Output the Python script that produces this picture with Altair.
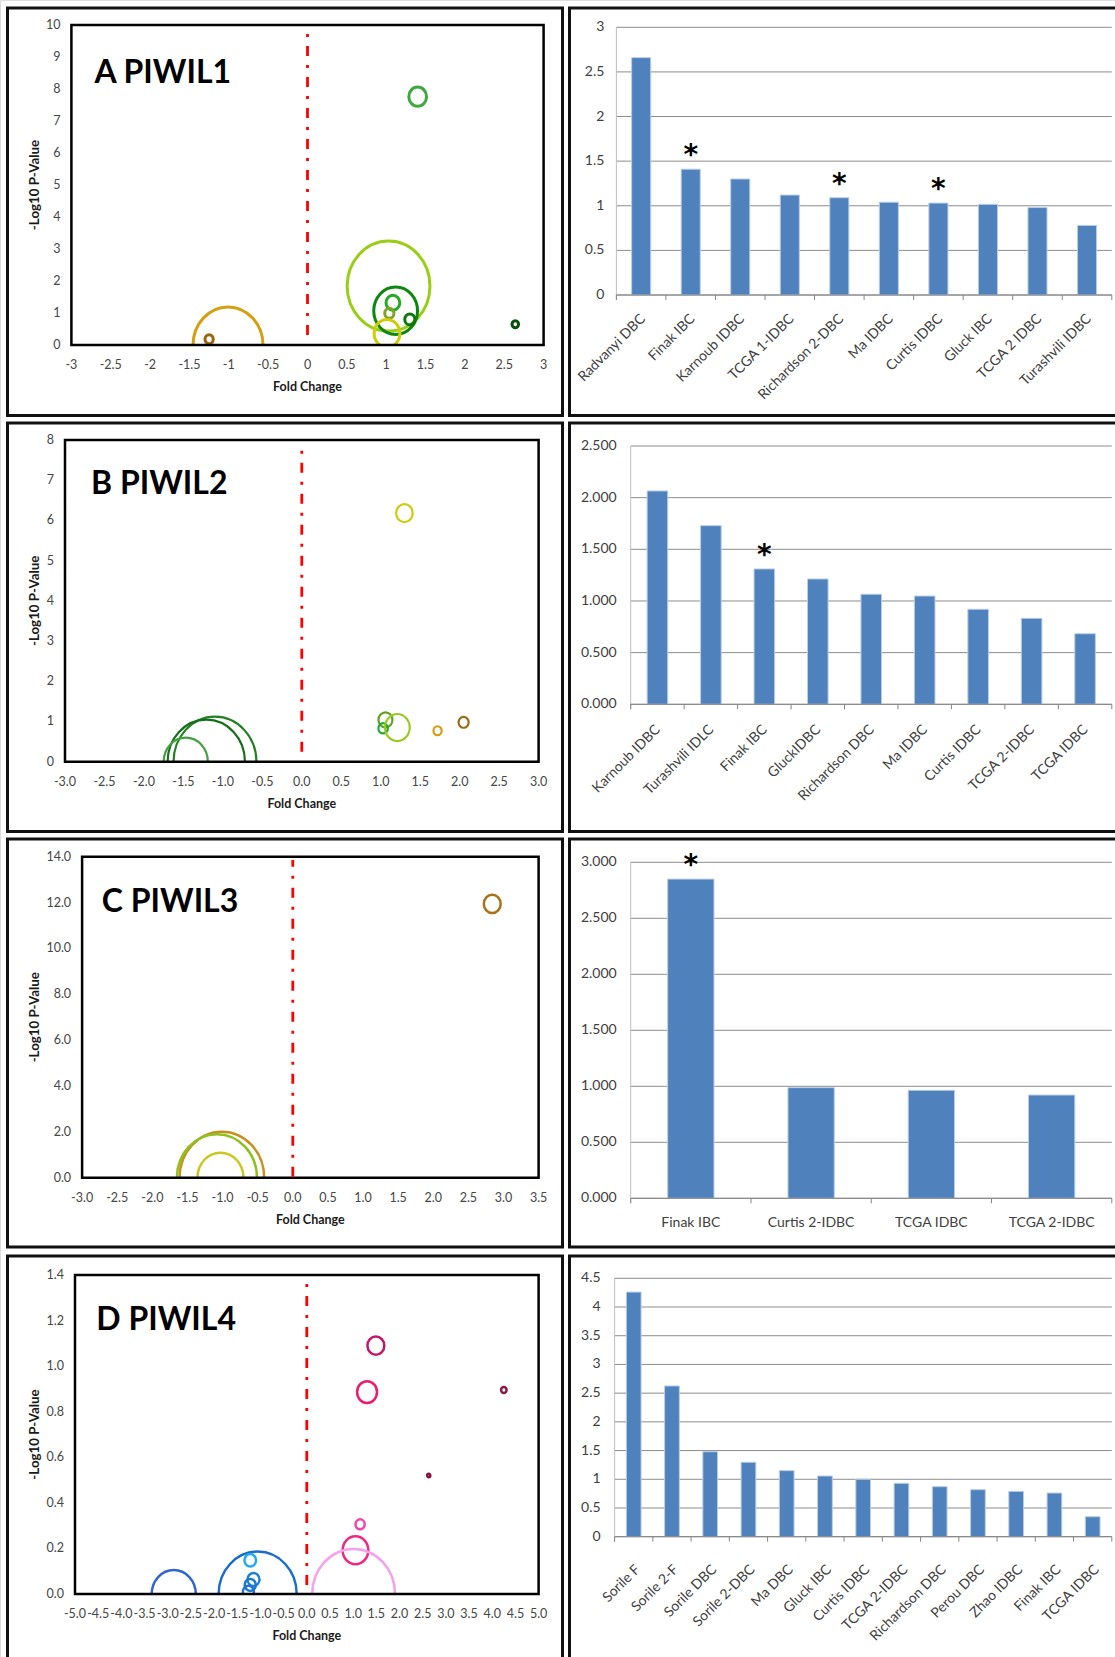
import altair as alt
import pandas as pd

CANVAS_W, CANVAS_H = 1115, 1657

# ---------------- PIWIL1 ----------------
a_fold = [1.40, 1.03, 1.12, 1.085, 1.04, 1.30, 1.01, 2.64, -1.01, -1.25]
a_logp = [7.76, 1.84, 1.07, 1.32, 0.99, 0.80, 0.36, 0.65, 0.00, 0.18]
a_bubble = [3.7, 81.0, 22.7, 2.25, 1.0, 1.2, 7.8, 0.5, 57.8, 0.8]
a_colors = ["#3ea83e", "#9acd16", "#0e870e", "#21ad21", "#7fa22a", "#097a09",
            "#cfcc08", "#0b4d0b", "#d4a012", "#9a6612"]
a_studies = ["Radvanyi DBC", "Finak IBC", "Karnoub IDBC", "TCGA 1-IDBC", "Richardson 2-DBC",
             "Ma IDBC", "Curtis IDBC", "Gluck IBC", "TCGA 2 IDBC", "Turashvili IDBC"]
a_values = [2.66, 1.41, 1.30, 1.12, 1.09, 1.04, 1.03, 1.016, 0.98, 0.78]
a_signif = [False, True, False, False, True, False, True, False, False, False]

# ---------------- PIWIL2 ----------------
b_fold = [1.30, 1.06, 1.03, 1.21, 1.72, 2.05, -1.10, -1.21, -1.47]
b_logp = [6.18, 1.04, 0.83, 0.85, 0.77, 0.98, 0.00, 0.00, 0.00]
b_bubble = [3.24, 2.3, 1.05, 7.3, 0.8, 1.2, 81.0, 70.6, 23.0]
b_colors = ["#cccc11", "#66a022", "#22aa33", "#99cc22", "#d4a010", "#9a6a1a",
            "#238023", "#14701a", "#45a045"]
b_studies = ["Karnoub IDBC", "Turashvili IDLC", "Finak IBC", "GluckIDBC", "Richardson DBC",
             "Ma IDBC", "Curtis IDBC", "TCGA 2-IDBC", "TCGA IDBC"]
b_values = [2.065, 1.729, 1.31, 1.213, 1.065, 1.048, 0.92, 0.832, 0.683]
b_signif = [False, False, True, False, False, False, False, False, False]

# ---------------- PIWIL3 ----------------
c_fold = [2.84, -1.01, -1.08, -1.03]
c_logp = [11.94, 0.00, 0.00, 0.00]
c_bubble = [3.35, 84.6, 75.7, 25.0]
c_colors = ["#a87218", "#c8901e", "#8cc21e", "#c8c81e"]
c_studies = ["Finak IBC", "Curtis 2-IDBC", "TCGA IDBC", "TCGA 2-IDBC"]
c_values = [2.85, 0.988, 0.964, 0.922]
c_signif = [True, False, False, False]

# ---------------- PIWIL4 ----------------
d_fold = [1.49, 1.30, 4.25, 2.63, 1.15, 1.05, 1.01, -1.06, -2.87, -1.22, -1.15, -1.22, -1.26]
d_logp = [1.09, 0.886, 0.895, 0.52, 0.306, 0.192, 0.00, 0.00, 0.00, 0.148, 0.064, 0.04, 0.01]
d_bubble = [3.35, 4.7, 0.36, 0.12, 1.0, 7.8, 81.0, 72.0, 23.0, 1.6, 1.7, 1.44, 1.44]
d_colors = ["#c0186a", "#ee1a72", "#8a1a4a", "#8a1040", "#ee4aa0", "#ee2a80", "#f7a1ee",
            "#1a6ccc", "#3366cc", "#22aaee", "#1f80d8", "#1a78d0", "#2a70c8"]
d_studies = ["Sorile F", "Sorile 2-F", "Sorile DBC", "Sorile 2-DBC", "Ma DBC", "Gluck IBC",
             "Curtis IDBC", "TCGA 2-IDBC", "Richardson DBC", "Perou DBC", "Zhao IDBC",
             "Finak IBC", "TCGA IDBC"]
d_values = [4.26, 2.625, 1.48, 1.296, 1.15, 1.057, 1.0, 0.93, 0.871, 0.819, 0.79, 0.761, 0.348]
d_signif = [False] * 13

# tick values of every panel
a_xticks = [-3, -2.5, -2, -1.5, -1, -0.5, 0, 0.5, 1, 1.5, 2, 2.5, 3]
a_yticks = [0, 1, 2, 3, 4, 5, 6, 7, 8, 9, 10]
b_xticks = [-3, -2.5, -2, -1.5, -1, -0.5, 0, 0.5, 1, 1.5, 2, 2.5, 3]
b_yticks = [0, 1, 2, 3, 4, 5, 6, 7, 8]
c_xticks = [-3, -2.5, -2, -1.5, -1, -0.5, 0, 0.5, 1, 1.5, 2, 2.5, 3, 3.5]
c_yticks = [0, 2, 4, 6, 8, 10, 12, 14]
d_xticks = [-5, -4.5, -4, -3.5, -3, -2.5, -2, -1.5, -1, -0.5, 0, 0.5, 1, 1.5, 2, 2.5,
            3, 3.5, 4, 4.5, 5]
d_yticks = [0, 0.2, 0.4, 0.6, 0.8, 1.0, 1.2, 1.4]
a_bar_ticks = [0, 0.5, 1, 1.5, 2, 2.5, 3]
b_bar_ticks = [0, 0.5, 1, 1.5, 2, 2.5]
c_bar_ticks = [0, 0.5, 1, 1.5, 2, 2.5, 3]
d_bar_ticks = [0, 0.5, 1, 1.5, 2, 2.5, 3, 3.5, 4, 4.5]

# slightly tall ellipse used as the bubble outline (unit symbol coordinates)
ELLIPSE = "M-0.92,0A0.92,1,0,1,0,0.92,0A0.92,1,0,1,0,-0.92,0Z"
FONT = "Lato"
ONE_ROW = pd.DataFrame({"k": [0]})


def fmt_expr(field, fmt):
    return f"replace(format(datum.{field}, '{fmt}'), '\u2212', '-')"


def bubble_panel(tag, heading, fold, logp, bubble, colors, box, xdom, ydom,
                 xticks, yticks, xfmt, yfmt, heading_at, guide, stroke_w):
    left, right, bottom, top = box
    ids = [f"{tag}{i}" for i in range(len(fold))]
    df = pd.DataFrame({"id": ids, "fold": fold, "logp": logp, "bubble": bubble})
    xs = alt.Scale(domain=xdom, range=[left, right], nice=False, zero=False)
    ys = alt.Scale(domain=ydom, range=[bottom, top], nice=False, zero=False)

    bubbles = alt.Chart(df).mark_point(
        shape=ELLIPSE, filled=False, strokeWidth=stroke_w, opacity=1
    ).encode(
        x=alt.X("fold:Q", scale=xs, axis=None),
        y=alt.Y("logp:Q", scale=ys, axis=None),
        size=alt.Size("bubble:Q", scale=alt.Scale(domain=[0, 100], range=[0, 10000]),
                      legend=None),
        stroke=alt.Stroke("id:N", scale=alt.Scale(domain=ids, range=colors), legend=None),
    )
    # hide the lower halves of bubbles sitting on the baseline
    mask = alt.Chart(ONE_ROW).mark_rect(color="white").encode(
        x=alt.XDatum(xdom[0], axis=None), x2=alt.datum(xdom[1]),
        y=alt.value(bottom + 1), y2=alt.value(bottom + 56),
    )
    plot_box = alt.Chart(ONE_ROW).mark_rect(
        filled=False, stroke="#000000", strokeWidth=2.5
    ).encode(
        x=alt.XDatum(xdom[0], axis=None), x2=alt.datum(xdom[1]),
        y=alt.YDatum(ydom[0], axis=None), y2=alt.datum(ydom[1]),
    )
    zero_line = alt.Chart(ONE_ROW).mark_rule(
        color="#ff0000", strokeWidth=2.8, strokeDash=[10, 9, 3, 9]
    ).encode(
        x=alt.XDatum(0, axis=None),
        y=alt.YDatum(guide[0], axis=None), y2=alt.datum(guide[1]),
    )
    title = alt.Chart(ONE_ROW).mark_text(
        text=heading, align="left", baseline="alphabetic", font=FONT,
        fontWeight="bold", fontSize=32, color="#000000"
    ).encode(
        x=alt.XDatum(heading_at[0], axis=None), y=alt.YDatum(heading_at[1], axis=None),
    )
    xlabels = alt.Chart(pd.DataFrame({"v": xticks})).transform_calculate(
        label=fmt_expr("v", xfmt)
    ).mark_text(
        font=FONT, fontSize=12.5, color="#454545", baseline="middle", align="center"
    ).encode(
        x=alt.X("v:Q", axis=None), y=alt.value(bottom + 20), text="label:N",
    )
    ylabels = alt.Chart(pd.DataFrame({"v": yticks})).transform_calculate(
        label=fmt_expr("v", yfmt)
    ).mark_text(
        font=FONT, fontSize=12.5, color="#454545", baseline="middle", align="right"
    ).encode(
        x=alt.value(left - 11), y=alt.Y("v:Q", axis=None), text="label:N",
    )
    xtitle = alt.Chart(ONE_ROW).mark_text(
        text="Fold Change", font=FONT, fontSize=12.5, fontWeight="bold",
        color="#1a1a1a", baseline="middle", align="center"
    ).encode(x=alt.value((left + right) / 2), y=alt.value(bottom + 42))
    ytitle = alt.Chart(ONE_ROW).mark_text(
        text="-Log10 P-Value", font=FONT, fontSize=13.3, fontWeight="bold",
        color="#1a1a1a", baseline="middle", align="center", angle=270
    ).encode(x=alt.value(34.6), y=alt.value((bottom + top) / 2))
    return alt.layer(bubbles, mask, plot_box, zero_line, title,
                     xlabels, ylabels, xtitle, ytitle)


def bar_panel(studies, values, signif, box, ymax, yticks, yfmt, angle, label_y, label_dx,
              ypad):
    left, right, bottom, top = box
    n = len(studies)
    step = (right - left) / n
    df = pd.DataFrame({"study": studies, "value": values, "sig": signif})
    xs = alt.Scale(domain=studies, range=[left, right], paddingInner=0.615,
                   paddingOuter=0.3075)
    ys = alt.Scale(domain=[0, ymax], range=[bottom, top], nice=False, zero=True)
    ticks_df = pd.DataFrame({"v": yticks})

    grid = alt.Chart(ticks_df).mark_rule(color="#8c8c8c", strokeWidth=1).encode(
        y=alt.Y("v:Q", scale=ys, axis=None),
        x=alt.value(left), x2=alt.value(right),
    )
    yline = alt.Chart(ONE_ROW).mark_rule(color="#bfbfbf", strokeWidth=1).encode(
        x=alt.value(left), y=alt.YDatum(ymax, axis=None), y2=alt.value(bottom + 5),
    )
    bars = alt.Chart(df).mark_bar(color="#4f81bd", stroke="#b9cde5", strokeWidth=1).encode(
        x=alt.X("study:N", sort=studies, scale=xs, axis=None),
        y=alt.Y("value:Q", axis=None),
    )
    baseline = alt.Chart(ONE_ROW).mark_rule(color="#868686", strokeWidth=1).encode(
        y=alt.YDatum(0, axis=None), x=alt.value(left), x2=alt.value(right),
    )
    # category separators below the baseline
    seps = alt.Chart(df).mark_rule(color="#868686", strokeWidth=1, xOffset=-step / 2).encode(
        x=alt.X("study:N", sort=studies, axis=None),
        y=alt.value(bottom), y2=alt.value(bottom + 5),
    )
    last_sep = alt.Chart(ONE_ROW).mark_rule(color="#868686", strokeWidth=1).encode(
        x=alt.value(right), y=alt.value(bottom), y2=alt.value(bottom + 5),
    )
    stars = alt.Chart(df).transform_filter("datum.sig").mark_text(
        text="*", font="DejaVu Sans", fontWeight="bold", fontSize=28,
        baseline="alphabetic", dy=-5, color="#000000"
    ).encode(
        x=alt.X("study:N", sort=studies, axis=None),
        y=alt.Y("value:Q", axis=None),
    )
    ylabels = alt.Chart(ticks_df).transform_calculate(
        label=fmt_expr("v", yfmt)
    ).mark_text(
        font=FONT, fontSize=14, color="#404040", baseline="middle", align="right"
    ).encode(
        x=alt.value(left - ypad), y=alt.Y("v:Q", axis=None), text="label:N",
    )
    if angle:
        xlabels = alt.Chart(df).mark_text(
            font=FONT, fontSize=14, color="#404040", baseline="middle", align="right",
            angle=315, dx=label_dx
        ).encode(
            x=alt.X("study:N", sort=studies, axis=None), y=alt.value(bottom + label_y),
            text="study:N",
        )
    else:
        xlabels = alt.Chart(df).mark_text(
            font=FONT, fontSize=14, color="#404040", baseline="middle", align="center"
        ).encode(
            x=alt.X("study:N", sort=studies, axis=None), y=alt.value(bottom + label_y),
            text="study:N",
        )
    return alt.layer(grid, yline, bars, baseline, seps, last_sep, stars, ylabels, xlabels)


def frame(x0, x1, y0, y1):
    return alt.Chart(ONE_ROW).mark_rect(
        filled=False, stroke="#111111", strokeWidth=3
    ).encode(x=alt.value(x0), x2=alt.value(x1), y=alt.value(y0), y2=alt.value(y1))


pA = bubble_panel("A", "A PIWIL1", a_fold, a_logp, a_bubble, a_colors,
                  (71.4, 543.6, 345, 25), [-3, 3], [0, 10],
                  a_xticks, a_yticks, "~g", "d",
                  (-2.705, 8.18), (0.31, 9.78), 3)
pB = bubble_panel("B", "B PIWIL2", b_fold, b_logp, b_bubble, b_colors,
                  (65, 538.6, 761.7, 440), [-3, 3], [0, 8],
                  b_xticks, b_yticks, ".1f", "d",
                  (-2.67, 6.66), (0.25, 7.84), 2.2)
pC = bubble_panel("C", "C PIWIL3", c_fold, c_logp, c_bubble, c_colors,
                  (82.1, 538.6, 1177.7, 856.7), [-3, 3.5], [0, 14],
                  c_xticks, c_yticks, ".1f", ".1f",
                  (-2.72, 11.59), (0.04, 13.86), 2.5)
pD = bubble_panel("D", "D PIWIL4", d_fold, d_logp, d_bubble, d_colors,
                  (75, 538.6, 1594, 1275), [-5, 5], [0, 1.4],
                  d_xticks, d_yticks, ".1f", ".1f",
                  (-4.54, 1.159), (0.04, 1.37), 2.5)

bA = bar_panel(a_studies, a_values, a_signif, (616.4, 1111.8, 295, 27.3), 3,
               a_bar_ticks, "~g", True, 24, 3, 12)
bB = bar_panel(b_studies, b_values, b_signif, (630.7, 1111.8, 704.3, 446), 2.5,
               b_bar_ticks, ".3f", True, 24, 1, 14)
bC = bar_panel(c_studies, c_values, c_signif, (630.7, 1111.8, 1198.3, 862.3), 3,
               c_bar_ticks, ".3f", False, 25, 0, 14)
bD = bar_panel(d_studies, d_values, d_signif, (614.6, 1111.8, 1536.7, 1278.3), 4.5,
               d_bar_ticks, "~g", True, 35, 6, 14)

frames = [
    frame(7.5, 562.5, 8, 415.5), frame(569.5, 1125, 8, 415.5),
    frame(7.5, 562.5, 423, 831.5), frame(569.5, 1125, 423, 831.5),
    frame(7.5, 562.5, 839, 1247), frame(569.5, 1125, 839, 1247),
    frame(7.5, 562.5, 1256, 1670), frame(569.5, 1125, 1256, 1670),
]

chart = alt.layer(pA, bA, pB, bB, pC, bC, pD, bD, *frames).resolve_scale(
    x="independent", y="independent", stroke="independent", size="independent"
).properties(
    width=CANVAS_W, height=CANVAS_H, autosize="none", padding=0, background="white"
).configure_view(
    strokeWidth=0
).configure(
    font=FONT
)

chart.save("out.html", embed_options={"renderer": "svg", "actions": False})
